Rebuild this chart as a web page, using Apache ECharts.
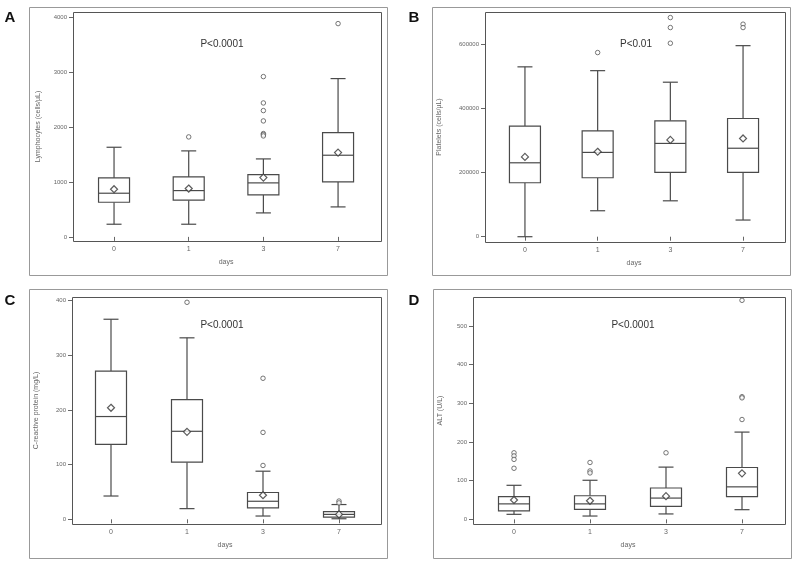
<!DOCTYPE html>
<html>
<head>
<meta charset="utf-8">
<script src="https://cdn.jsdelivr.net/npm/echarts@6/dist/echarts.min.js"></script>
<style>html,body{margin:0;padding:0;background:#fff}#c{width:796px;height:564px}</style>
</head>
<body>
<div id="c"></div>
<script>
// ---- data ----
const days = ['0', '1', '3', '7'];
// [min, q1, median, q3, max]
const lymphBoxes = [[230, 630, 794, 1073, 1630], [230, 667, 842, 1091, 1564], [436, 764, 982, 1133, 1418], [545, 1000, 1485, 1897, 2879]];
const lymphMeans = [867, 879, 1079, 1533];
const lymphOutliers = [[1, 1818], [2, 2915], [2, 2436], [2, 2297], [2, 2109], [2, 1879], [2, 1861], [2, 1836], [3, 3879]];
const lymphTicks = [0, 1000, 2000, 3000, 4000];

const pltBoxes = [[0, 168300, 230600, 345000, 529900], [81000, 184000, 263000, 330000, 518000], [112000, 200500, 291000, 361600, 482000], [52000, 200500, 276000, 368800, 596000]];
const pltMeans = [249000, 265000, 302000, 306500];
const pltOutliers = [[1, 574500], [2, 683600], [2, 652500], [2, 603600], [3, 663000], [3, 652500]];
const pltTicks = [0, 200000, 400000, 600000];

const crpBoxes = [[42.6, 137, 188, 271, 366], [19.5, 104.6, 161, 219, 332], [6, 21, 33, 49, 88], [1, 4, 9, 14, 27]];
const crpMeans = [204, 160, 44, 9];
const crpOutliers = [[1, 397], [2, 258], [2, 159], [2, 98.5], [3, 33.4], [3, 30]];
const crpTicks = [0, 100, 200, 300, 400];

const altBoxes = [[13, 22, 40, 58.5, 88], [8.6, 26, 40, 61, 101], [14, 33.6, 55, 81, 135], [25, 58.5, 84, 134, 225.5]];
const altMeans = [50, 48, 60, 119];
const altOutliers = [[0, 172], [0, 164], [0, 155], [0, 132], [1, 147], [1, 125], [1, 120], [2, 172], [3, 566], [3, 317], [3, 314], [3, 258]];
const altTicks = [0, 100, 200, 300, 400, 500];

// ---- layout ----
// frame: inner plot rectangle; grid: data area (categories placed as in the original)
const panels = [
  {frame: {x: 73, y: 12, w: 308, h: 229}, grid: {left: 76.7, top: 12, width: 298.7, height: 229}, min: -75, max: 4090, ticks: lymphTicks, name: 'Lymphocytes (cells/µL)', gap: 31, boxes: lymphBoxes, means: lymphMeans, outl: lymphOutliers},
  {frame: {x: 485, y: 12, w: 300, h: 230}, grid: {left: 488.6, top: 12, width: 290.8, height: 230}, min: -16500, max: 701000, ticks: pltTicks, name: 'Platelets (cells/µL)', gap: 42, boxes: pltBoxes, means: pltMeans, outl: pltOutliers},
  {frame: {x: 72, y: 297, w: 309, h: 227}, grid: {left: 73, top: 297, width: 304, height: 227}, min: -8.6, max: 406.7, ticks: crpTicks, name: 'C-reactive protein (mg/L)', gap: 32, boxes: crpBoxes, means: crpMeans, outl: crpOutliers},
  {frame: {x: 473, y: 297, w: 312, h: 227}, grid: {left: 476, top: 297, width: 304, height: 227}, min: -12, max: 574.6, ticks: altTicks, name: 'ALT (U/L)', gap: 29, boxes: altBoxes, means: altMeans, outl: altOutliers}
];

const lineCol = '#4a4a4a';
const txtCol = '#666';

function renderBox(params, api) {
  const x = api.value(0);
  const p = [1, 2, 3, 4, 5].map(i => api.coord([x, api.value(i)]));
  const cx = p[0][0];
  const hw = 15.5, cw = 7.5;
  const st = {stroke: lineCol, lineWidth: 1.2, fill: null};
  return {
    type: 'group',
    children: [
      {type: 'line', shape: {x1: cx, y1: p[0][1], x2: cx, y2: p[1][1]}, style: st},
      {type: 'line', shape: {x1: cx, y1: p[3][1], x2: cx, y2: p[4][1]}, style: st},
      {type: 'line', shape: {x1: cx - cw, y1: p[0][1], x2: cx + cw, y2: p[0][1]}, style: st},
      {type: 'line', shape: {x1: cx - cw, y1: p[4][1], x2: cx + cw, y2: p[4][1]}, style: st},
      {type: 'rect', shape: {x: cx - hw, y: p[3][1], width: 2 * hw, height: p[1][1] - p[3][1]}, style: {stroke: lineCol, lineWidth: 1.2, fill: '#fff'}},
      {type: 'line', shape: {x1: cx - hw, y1: p[2][1], x2: cx + hw, y2: p[2][1]}, style: st}
    ]
  };
}

const grids = [], xAxes = [], yAxes = [], series = [];
panels.forEach((pn, i) => {
  grids.push(Object.assign({show: false}, pn.grid));
  xAxes.push({
    type: 'category', gridIndex: i, data: days,
    name: 'days', nameLocation: 'middle', nameGap: 18,
    nameTextStyle: {fontSize: 7, color: txtCol, fontFamily: 'Liberation Sans'},
    axisLine: {show: false},
    axisTick: {show: true, alignWithLabel: true, length: 4, lineStyle: {color: '#666'}},
    axisLabel: {fontSize: 7, color: txtCol, margin: 5, fontFamily: 'Liberation Sans'},
    splitLine: {show: false}
  });
  yAxes.push({
    type: 'value', gridIndex: i, min: pn.min, max: pn.max,
    offset: pn.grid.left - pn.frame.x,
    name: pn.name, nameLocation: 'middle', nameGap: pn.gap, nameRotate: 90,
    nameTextStyle: {fontSize: 7, color: txtCol, fontFamily: 'Liberation Sans'},
    axisLine: {show: false},
    axisTick: {show: true, length: 4, customValues: pn.ticks, lineStyle: {color: '#666'}},
    axisLabel: {fontSize: 6, color: txtCol, margin: 6, customValues: pn.ticks, fontFamily: 'Liberation Sans', formatter: v => String(v)},
    splitLine: {show: false}
  });
  series.push({
    type: 'custom', xAxisIndex: i, yAxisIndex: i,
    data: pn.boxes.map((b, k) => [k].concat(b)),
    renderItem: renderBox, silent: true, z: 2
  });
  series.push({
    type: 'scatter', xAxisIndex: i, yAxisIndex: i,
    data: pn.means.map((m, k) => [k, m]),
    symbol: 'diamond', symbolSize: 7,
    itemStyle: {color: '#fff', borderColor: '#333', borderWidth: 1.2}, z: 4
  });
  series.push({
    type: 'scatter', xAxisIndex: i, yAxisIndex: i,
    data: pn.outl,
    symbol: 'circle', symbolSize: 4.5,
    itemStyle: {color: '#fff', borderColor: '#555', borderWidth: 1}, z: 4
  });
});

const outerFrames = [
  {x: 29.5, y: 7.5, w: 358, h: 268},
  {x: 432.5, y: 7.5, w: 358, h: 268},
  {x: 29.5, y: 289.5, w: 358, h: 269},
  {x: 433.5, y: 289.5, w: 358, h: 269}
];
const letters = [['A', 10, 18], ['B', 414, 18], ['C', 10, 301], ['D', 414, 301]];
const pTexts = [['P<0.0001', 222, 44], ['P<0.01', 636, 44], ['P<0.0001', 222, 325], ['P<0.0001', 633, 325]];

const graphic = [];
outerFrames.forEach(f => graphic.push({type: 'rect', z: -10, shape: {x: f.x, y: f.y, width: f.w, height: f.h}, style: {fill: '#fff', stroke: '#999', lineWidth: 1}}));
panels.forEach(pn => graphic.push({type: 'rect', z: -5, shape: {x: pn.frame.x + 0.5, y: pn.frame.y + 0.5, width: pn.frame.w, height: pn.frame.h}, style: {fill: '#fff', stroke: '#555', lineWidth: 1}}));
letters.forEach(l => graphic.push({type: 'text', x: l[1], y: l[2], style: {text: l[0], font: 'bold 15px "Liberation Sans"', fill: '#111', align: 'center', verticalAlign: 'middle'}}));
pTexts.forEach(t => graphic.push({type: 'text', x: t[1], y: t[2], z: 10, style: {text: t[0], font: '10px "Liberation Sans"', fill: '#333', align: 'center', verticalAlign: 'middle'}}));

const chart = echarts.init(document.getElementById('c'));
chart.setOption({
  animation: false,
  backgroundColor: '#fff',
  grid: grids, xAxis: xAxes, yAxis: yAxes, series: series,
  graphic: graphic
});
</script>
</body>
</html>
